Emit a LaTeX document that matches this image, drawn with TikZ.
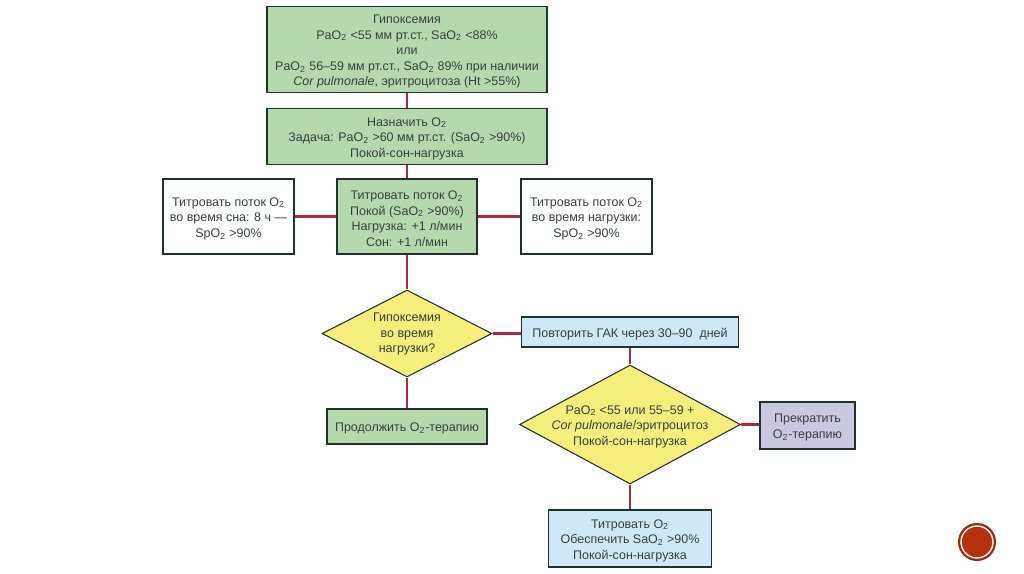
\documentclass[tikz,border=0pt]{standalone}
\usepackage{fontspec}
\setmainfont{Liberation Sans}
\usetikzlibrary{shapes.geometric}
\definecolor{boxgreen}{HTML}{B4D9AC}
\definecolor{boxyellow}{HTML}{F6EE7C}
\definecolor{boxblue}{HTML}{CDE9F7}
\definecolor{boxviolet}{HTML}{CBC7E2}
\definecolor{linkred}{HTML}{B3263C}
\definecolor{framedark}{HTML}{22302C}
\definecolor{textdark}{HTML}{38403F}
\definecolor{badgered}{HTML}{B5300E}
\begin{document}
\begin{tikzpicture}[
    x=0.02cm, y=-0.02cm,
    box/.style={draw=framedark, line width=1.1pt, align=flush center, inner sep=0pt, text=textdark, font=\fontsize{7.1}{8.9}\selectfont, execute at begin node={\rule{0pt}{7.4pt}}},
    greenbox/.style={box, fill=boxgreen},
    whitebox/.style={box, fill=white},
    bluebox/.style={box, fill=boxblue},
    violetbox/.style={box, fill=boxviolet},
    decision/.style={diamond, draw=framedark, line width=0.6pt, fill=boxyellow, inner sep=0pt},
    decisiontext/.style={align=flush center, inner sep=0pt, text width=200*0.02cm, text=textdark, font=\fontsize{7.1}{8.9}\selectfont, execute at begin node={\rule{0pt}{7.4pt}}},
    link/.style={draw=linkred, line width=1.25pt}
  ]
    \useasboundingbox (0,0) rectangle (1024,574);
    % boxes of the left column
    \node[greenbox, text width=280*0.02cm, minimum height=86*0.02cm] (hypox) at (407,49.5) {Гипоксемия\\ PaO\textsubscript{2} <55 мм рт.ст., SaO\textsubscript{2} <88\%\\ или\\ PaO\textsubscript{2} 56--59 мм рт.ст., SaO\textsubscript{2} 89\% при наличии\\ \textit{Cor pulmonale}, эритроцитоза (Ht >55\%)};
    \node[greenbox, text width=280*0.02cm, minimum height=56*0.02cm] (assign) at (407,136.5) {Назначить O\textsubscript{2}\\ Задача: PaO\textsubscript{2} >60 мм рт.ст. (SaO\textsubscript{2} >90\%)\\ Покой-сон-нагрузка};
    \node[greenbox, text width=140*0.02cm, minimum height=75*0.02cm] (titrate) at (407,216.5) {Титровать поток O\textsubscript{2}\\ Покой (SaO\textsubscript{2} >90\%)\\ Нагрузка: +1 л/мин\\ Сон: +1 л/мин};
    \node[whitebox, text width=131*0.02cm, minimum height=75*0.02cm] (sleep) at (228.5,216.5) {Титровать поток O\textsubscript{2}\\ во время сна: 8 ч ---\\ SpO\textsubscript{2} >90\%};
    \node[whitebox, text width=131*0.02cm, minimum height=75*0.02cm] (load) at (586.5,216.5) {Титровать поток O\textsubscript{2}\\ во время нагрузки:\\ SpO\textsubscript{2} >90\%};
    \node[decision, minimum width=170*0.02cm, minimum height=87*0.02cm] (loadq) at (407,333.5) {};
    \node[decisiontext, yshift=0.8pt] (loadqtext) at (loadq.center) {Гипоксемия\\ во время\\ нагрузки?};
    \node[greenbox, text width=160*0.02cm, minimum height=35*0.02cm] (cont) at (407,426.5) {Продолжить O\textsubscript{2}-терапию};
    % boxes of the right column
    \node[bluebox, text width=217*0.02cm, minimum height=30*0.02cm] (repeat) at (630,332) {Повторить ГАК через 30--90~~дней};
    \node[decision, minimum width=221*0.02cm, minimum height=119*0.02cm] (paoq) at (630,424.5) {};
    \node[decisiontext] (paoqtext) at (paoq.center) {PaO\textsubscript{2} <55 или 55--59 +\\ \textit{Cor pulmonale}/эритроцитоз\\ Покой-сон-нагрузка};
    \node[violetbox, text width=95*0.02cm, minimum height=47*0.02cm] (stop) at (807.5,425.5) {Прекратить\\ O\textsubscript{2}-терапию};
    \node[bluebox, text width=163*0.02cm, minimum height=57*0.02cm] (keep) at (630,538.5) {Титровать O\textsubscript{2}\\ Обеспечить SaO\textsubscript{2} >90\%\\ Покой-сон-нагрузка};
    % connectors
    \draw[link] (hypox) -- (assign);
    \draw[link] (assign) -- (titrate);
    \draw[link] (sleep) -- (titrate);
    \draw[link] (titrate) -- (load);
    \draw[link] (titrate) -- (loadq);
    \draw[link] (loadq) -- (cont);
    \draw[link] (loadq) -- (loadq -| repeat.west);
    \draw[link] (repeat) -- (paoq);
    \draw[link] (paoq) -- (paoq -| stop.west);
    \draw[link] (paoq) -- (keep);
    % badge in the corner
    \fill[badgered!85!black] (977,542) circle (19);
    \draw[white, fill=badgered, line width=0.8pt] (977,542) circle (16);
\end{tikzpicture}
\end{document}
